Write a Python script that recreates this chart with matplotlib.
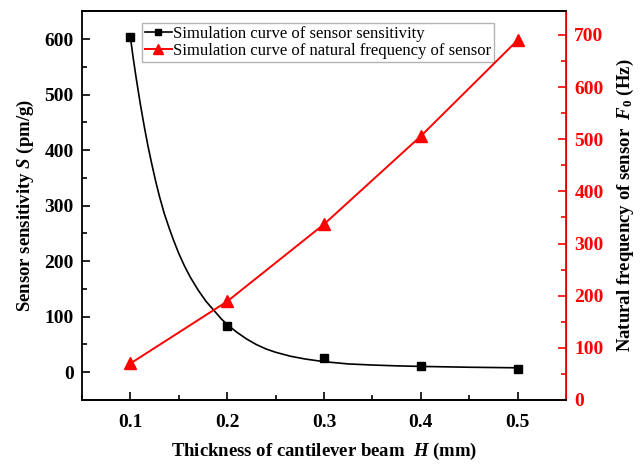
import matplotlib
matplotlib.use("Agg")
import matplotlib.pyplot as plt
from matplotlib.lines import Line2D
from matplotlib.ticker import MultipleLocator

plt.rcParams['font.family'] = 'Liberation Serif'
plt.rcParams['mathtext.fontset'] = 'custom'
plt.rcParams['mathtext.rm'] = 'Liberation Serif:bold'
plt.rcParams['mathtext.it'] = 'Liberation Serif:italic:bold'
plt.rcParams['mathtext.bf'] = 'Liberation Serif:bold'

# beam thickness H (mm)
thickness = [0.1, 0.2, 0.3, 0.4, 0.5]
# simulated sensitivity S (pm/g)
sensitivity = [604, 83, 26, 11, 6]
# simulated natural frequency F0 (Hz)
frequency = [70, 189, 337, 506, 690]

# fitted sensitivity curve
fit_h = [0.100, 0.103, 0.106, 0.110, 0.114, 0.118, 0.122, 0.126, 0.130, 0.135,
         0.140, 0.145, 0.150, 0.156, 0.162, 0.170, 0.178, 0.186, 0.194, 0.200,
         0.210, 0.220, 0.230, 0.240, 0.250, 0.265, 0.280, 0.300, 0.325, 0.350,
         0.375, 0.400, 0.450, 0.500]
fit_s = [604, 565, 530, 486, 446, 409, 376, 345, 317, 286,
         260, 236, 214, 191, 171, 148, 128, 112, 96, 86,
         72, 60, 50, 42, 36, 29, 24, 19, 15, 13,
         11.5, 10.5, 9, 8]

red = '#ff0000'

fig = plt.figure(figsize=(6.44, 4.65), dpi=100)
ax = fig.add_axes([0.1273, 0.1398, 0.7516, 0.8355])
ax2 = ax.twinx()

ax.plot(fit_h, fit_s, color='black', lw=1.2, zorder=3)
ax.plot(thickness, sensitivity, ls='none', marker='s', ms=6, color='black', zorder=4)
ax2.plot(thickness, frequency, color=red, lw=1.4, marker='^', ms=8, zorder=3)

ax.set_xlim(0.05, 0.55)
ax.set_ylim(-50, 650)
ax2.set_ylim(0, 745)

ax.xaxis.set_major_locator(MultipleLocator(0.1))
ax.xaxis.set_minor_locator(MultipleLocator(0.05))
ax.yaxis.set_major_locator(MultipleLocator(100))
ax.yaxis.set_minor_locator(MultipleLocator(50))
ax2.yaxis.set_major_locator(MultipleLocator(100))
ax2.yaxis.set_minor_locator(MultipleLocator(50))

ax.tick_params(axis='both', which='major', direction='in', length=6, width=1.2,
               labelsize=14, pad=6)
ax.tick_params(axis='both', which='minor', direction='in', length=3.5, width=1.2)
ax.tick_params(axis='x', pad=10)
ax.tick_params(top=False, which='both')
ax2.tick_params(axis='y', which='major', direction='in', length=6, width=1.2,
                labelsize=14, colors=red, pad=6)
ax2.tick_params(axis='y', which='minor', direction='in', length=3.5, width=1.2, colors=red)

for lab in ax.get_xticklabels() + ax.get_yticklabels() + ax2.get_yticklabels():
    lab.set_fontweight('bold')

for side in ['left', 'bottom', 'top']:
    ax.spines[side].set_linewidth(1.3)
ax2.spines['right'].set_color(red)
ax2.spines['right'].set_linewidth(1.3)
ax2.spines['left'].set_visible(False)
ax2.spines['top'].set_linewidth(1.3)
ax2.spines['bottom'].set_linewidth(1.3)

ax.set_xlabel(r'Thickness of cantilever beam  $\mathit{H}$ (mm)', fontsize=13.5,
              fontweight='bold', labelpad=7)
ax.set_ylabel(r'Sensor sensitivity $\mathit{S}$ (pm/g)', fontsize=13.5,
              fontweight='bold', labelpad=6)
ax2.set_ylabel(r'Natural frequency of sensor  $\mathit{F_0}$ (Hz)', fontsize=13.5,
               fontweight='bold', labelpad=8)

handles = [
    Line2D([], [], color='black', lw=1.2, marker='s', ms=5),
    Line2D([], [], color=red, lw=1.4, marker='^', ms=7),
]
labels = ['Simulation curve of sensor sensitivity',
          'Simulation curve of natural frequency of sensor']
leg = ax.legend(handles, labels, loc='upper left', bbox_to_anchor=(0.125, 0.97),
                fontsize=12, frameon=True, fancybox=False, handlelength=1.6,
                handletextpad=0.1, borderpad=0.15, labelspacing=0.1,
                borderaxespad=0.0)
leg.get_frame().set_edgecolor('#a0a0a0')
leg.get_frame().set_linewidth(1.0)

fig.savefig('out.png', dpi=100)
